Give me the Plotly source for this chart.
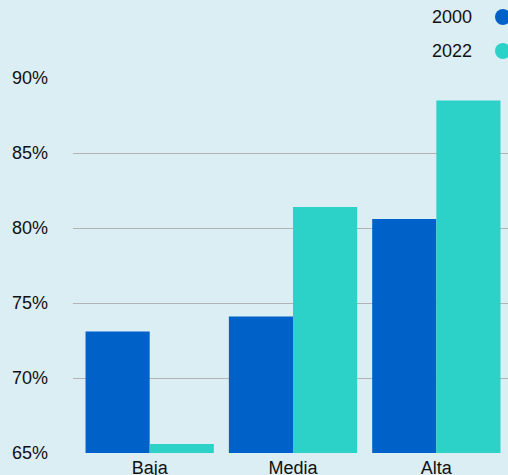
import plotly.graph_objects as go

categories = ["Baja", "Media", "Alta"]
values_2000 = [73.1, 74.1, 80.6]
values_2022 = [65.6, 81.4, 88.5]
series_names = ["2000", "2022"]
tick_vals = [65, 70, 75, 80, 85, 90]
tick_text = ["65%", "70%", "75%", "80%", "85%", "90%"]

BG = "#dbeef4"
C1 = "#0061c8"
C2 = "#2cd2c8"
FONT = "Liberation Sans, Arial, sans-serif"
W, H = 508, 475
L, R, T, B = 73, 0, 78, 22
PW, PH = W - L - R, H - T - B

fig = go.Figure()
fig.add_trace(go.Bar(x=categories, y=[v - 65 for v in values_2000], base=65,
                     name=series_names[0], marker_color=C1, marker_line_width=0))
fig.add_trace(go.Bar(x=categories, y=[v - 65 for v in values_2022], base=65,
                     name=series_names[1], marker_color=C2, marker_line_width=0))

fig.update_layout(
    width=W, height=H,
    paper_bgcolor=BG, plot_bgcolor=BG,
    margin=dict(l=L, r=R, t=T, b=B, autoexpand=False),
    barmode="group", bargap=0.105, bargroupgap=0,
    showlegend=False,
    font=dict(family=FONT, size=18, color="#111111"),
    xaxis=dict(range=[-0.535, 2.5], showgrid=False, zeroline=False, showline=False,
               ticks="", tickfont=dict(size=18), ticklabelstandoff=2, automargin=False),
    yaxis=dict(range=[65, 90], tickvals=tick_vals, ticktext=tick_text,
               showgrid=True, gridcolor="#b3b3b3", gridwidth=1, zeroline=False,
               showline=False, ticks="", ticklabelstandoff=24, automargin=False,
               tickfont=dict(size=18)),
)

# legend drawn manually (text left of marker)
legend_y = [17, 51]
for name, col, yy in zip(series_names, [C1, C2], legend_y):
    yc = (H - yy - B) / PH
    fig.add_annotation(xref="paper", yref="paper", x=(474 - L) / PW, y=yc,
                       text=name, showarrow=False, xanchor="right", yanchor="middle",
                       font=dict(size=18, family=FONT, color="#111111"))
    fig.add_shape(type="circle", xref="paper", yref="paper",
                  x0=(495 - L) / PW, x1=(511 - L) / PW,
                  y0=yc - 8 / PH, y1=yc + 8 / PH,
                  fillcolor=col, line_width=0, layer="above")

fig.write_html("out.html", config={"displayModeBar": False},
               post_script="document.body.style.margin='0';document.body.style.overflow='hidden';")
